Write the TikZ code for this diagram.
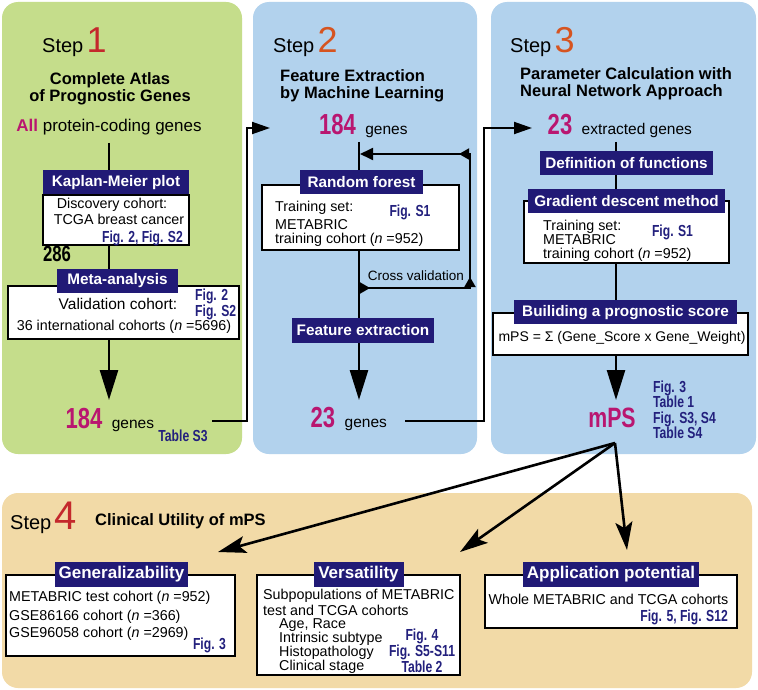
\documentclass[tikz,border=0pt]{standalone}
\usepackage{fontspec}
\setmainfont{Liberation Sans}
\newfontfamily\condfont[FakeStretch=0.76]{Liberation Sans}
\usetikzlibrary{positioning, arrows.meta, decorations.markings, calc}

\definecolor{panelgreen}{RGB}{197,221,139}
\definecolor{panelblue}{RGB}{178,210,237}
\definecolor{paneltan}{RGB}{242,218,167}
\definecolor{navyhead}{RGB}{33,26,118}
\definecolor{navytext}{RGB}{35,32,125}
\definecolor{genemag}{RGB}{185,22,112}
\definecolor{stepred}{RGB}{196,40,44}
\definecolor{steporange}{RGB}{214,84,32}

\begin{document}
\begin{tikzpicture}[x=1pt, y=-1pt,
    stepword/.style={font=\fontsize{20}{22}\selectfont, inner sep=0pt, anchor=base west},
    stepnum/.style={font=\fontsize{36}{36}\selectfont, inner sep=0pt, anchor=base west},
    heading/.style={font=\fontsize{16.5}{17}\selectfont\bfseries, inner sep=0pt},
    headbox/.style={fill=navyhead, text=white, font=\fontsize{15.3}{16}\selectfont\bfseries, inner sep=0pt, minimum height=24pt},
    infobox/.style={draw=black, line width=1.2pt, fill=white, inner sep=0pt},
    bodytxt/.style={font=\fontsize{14.3}{15}\selectfont, inner sep=0pt, text height=9pt, text depth=2.5pt},
    genetxt/.style={font=\fontsize{15.5}{16}\selectfont, inner sep=0pt, anchor=base west},
    figref/.style={text=navytext, font=\condfont\bfseries\fontsize{16}{15.5}\selectfont, inner sep=0pt},
    bignum/.style={text=genemag, font=\condfont\bfseries\fontsize{29}{29}\selectfont, inner sep=0pt, anchor=base},
    mainflow/.style={line width=2.6pt, -{Triangle[length=30pt, width=18pt]}},
    linkarrow/.style={line width=2pt, -{Triangle[length=18pt, width=12pt]}},
    fanarrow/.style={line width=2.6pt, -{Stealth[length=28pt, width=17pt, inset=6pt]}},
    cvloop/.style={line width=1.8pt, -{Triangle[length=13pt, width=12pt]},
        decoration={markings,
        mark=at position 11pt with {\arrow{Triangle[length=10pt, width=11pt]}},
        mark=at position 122pt with {\arrow{Triangle[length=10pt, width=11pt]}},
        mark=at position 256pt with {\arrow{Triangle[length=10pt, width=11pt]}}},
        postaction={decorate}}]

    \useasboundingbox (0,0) rectangle (758,690);
    \fill[white] (0,0) rectangle (758,690);

    % Panels
    \fill[panelgreen, rounded corners=16pt] (2,2) rectangle (242,454);
    \fill[panelblue, rounded corners=16pt] (253,2) rectangle (477,454);
    \fill[panelblue, rounded corners=16pt] (491,2) rectangle (756,454);
    \fill[paneltan, rounded corners=16pt] (2,493) rectangle (752,688);

    % Step 1
    \node[stepword] (step1) at (42,53) {Step};
    \node[stepnum, text=stepred] (step1num) at ([xshift=3pt]step1.base east) {1};
    \node[heading, align=center] (title1) at (110,89) {Complete Atlas\\of Prognostic Genes};
    \node[font=\fontsize{17}{17}\selectfont, inner sep=0pt] (all_genes) at (109,127) {{\color{genemag}\bfseries All} protein-coding genes};

    \coordinate (top1) at (109,143);
    \coordinate (tip1) at (109,400);
    \draw[mainflow] (top1) -- (tip1);

    \node[infobox, minimum width=146pt, minimum height=50pt] (km_box) at (116,220) {};
    \node[headbox, minimum width=146pt, above=0pt of km_box] (km_head) {Kaplan-Meier plot};
    \node[bodytxt] (km_txt1) at (112,205) {Discovery cohort:};
    \node[bodytxt] (km_txt2) at (119,221) {TCGA breast cancer};
    \node[figref, anchor=east] (km_fig) at (183,238) {Fig. 2, Fig. S2};
    \node[font=\condfont\bfseries\fontsize{22}{22}\selectfont, inner sep=0pt] (n286) at (57,254) {286};

    \node[infobox, minimum width=231pt, minimum height=53pt] (meta_box) at (123.5,312.5) {};
    \node[headbox, minimum width=121pt] (meta_head) at ([xshift=-6pt, yshift=4.5pt]meta_box.north) {Meta-analysis};
    \node[bodytxt, font=\fontsize{15.5}{16}\selectfont] (meta_txt1) at (118,306) {Validation cohort:};
    \node[figref, font=\condfont\bfseries\fontsize{16}{13.5}\selectfont, anchor=west, align=left] (meta_fig) at (195,304) {Fig. 2\\Fig. S2};
    \node[bodytxt] (meta_txt2) at (124,327.5) {36 international cohorts (\textit{n} =5696)};

    \node[bignum] (num184a) at (84,428) {184};
    \node[genetxt] (genes1) at ([xshift=9pt]num184a.base east) {genes};
    \node[figref] (tab_s3) at (183,436) {Table S3};

    \coordinate (link1s) at (212,421);
    \coordinate (bend1) at (247,128);
    \coordinate (link1e) at (270,128);
    \draw[linkarrow] (link1s) -| (bend1) -- (link1e);

    % Step 2
    \node[stepword] (step2) at (273,53) {Step};
    \node[stepnum, text=steporange] (step2num) at ([xshift=3pt]step2.base east) {2};
    \node[heading, align=left, anchor=west] (title2) at (280,86) {Feature Extraction\\by Machine Learning};
    \node[bignum] (num184b) at (337.5,135) {184};
    \node[genetxt] (genes2) at ([xshift=9pt]num184b.base east) {genes};

    \coordinate (top2) at (359,142);
    \coordinate (tip2) at (359,400);
    \draw[mainflow] (top2) -- (tip2);

    % Cross validation loop
    \coordinate (cv_a) at (359,288);
    \coordinate (cv_b) at (470,288);
    \coordinate (cv_c) at (470,154);
    \coordinate (cv_d) at (360,154);
    \draw[cvloop] (cv_a) -- (cv_b) -- (cv_c) -- (cv_d);
    \node[font=\fontsize{13.5}{14}\selectfont, inner sep=0pt] (cv_lbl) at (416,276) {Cross validation};

    \node[infobox, minimum width=197pt, minimum height=65pt] (rf_box) at (360.5,217.5) {};
    \node[headbox, minimum width=123pt] (rf_head) at ([xshift=1pt, yshift=2.5pt]rf_box.north) {Random forest};
    \node[bodytxt, anchor=west] (rf_txt1) at (275,208) {Training set:};
    \node[figref] (rf_fig) at (410,212) {Fig. S1};
    \node[bodytxt, anchor=west] (rf_txt2) at (275,226) {METABRIC};
    \node[bodytxt, anchor=west] (rf_txt3) at (275,240) {training cohort (\textit{n} =952)};

    \node[headbox, minimum width=142pt, minimum height=25pt] (fe_head) at (363,330.5) {Feature extraction};

    \node[bignum] (num23a) at (323,427) {23};
    \node[genetxt] (genes3) at ([xshift=9pt]num23a.base east) {genes};

    \coordinate (link2s) at (405,421);
    \coordinate (bend2) at (484,128);
    \coordinate (link2e) at (532,128);
    \draw[linkarrow] (link2s) -| (bend2) -- (link2e);

    % Step 3
    \node[stepword] (step3) at (510,53) {Step};
    \node[stepnum, text=steporange] (step3num) at ([xshift=3pt]step3.base east) {3};
    \node[heading, align=left, anchor=west] (title3) at (520,83.5) {Parameter Calculation with\\Neural Network Approach};
    \node[bignum] (num23b) at (560,135) {23};
    \node[genetxt] (genes4) at ([xshift=9pt]num23b.base east) {extracted genes};

    \coordinate (top3) at (616,142);
    \coordinate (tip3) at (616,400);
    \draw[mainflow] (top3) -- (tip3);

    \node[headbox, minimum width=173pt] (def_head) at (626.5,163) {Definition of functions};

    \node[infobox, minimum width=205pt, minimum height=62pt] (gd_box) at (626.5,232) {};
    \node[headbox, minimum width=197pt] (gd_head) at ([yshift=-1pt]gd_box.north) {Gradient descent method};
    \node[bodytxt, anchor=west] (gd_txt1) at (543,227) {Training set:};
    \node[figref] (gd_fig) at (672.5,232) {Fig. S1};
    \node[bodytxt, anchor=west] (gd_txt2) at (543,241) {METABRIC};
    \node[bodytxt, anchor=west] (gd_txt3) at (543,255) {training cohort (\textit{n} =952)};

    \node[infobox, minimum width=255pt, minimum height=42pt] (bps_box) at (620.5,334) {};
    \node[headbox, minimum width=223pt] (bps_head) at ([xshift=5pt]bps_box.north) {Builiding a prognostic score};
    \node[bodytxt, font=\fontsize{14}{15}\selectfont] (bps_txt) at (622,338) {mPS = Σ (Gene\_Score x Gene\_Weight)};

    \node[bignum, font=\condfont\bfseries\fontsize{28}{28}\selectfont] (mps) at (612,427) {mPS};
    \node[figref, align=left, anchor=west] (mps_fig) at (653,410) {Fig. 3\\Table 1\\Fig. S3, S4\\Table S4};

    % Step 4
    \node[stepword] (step4) at (10,529) {Step};
    \node[stepnum, font=\fontsize{40}{40}\selectfont, text=stepred] (step4num) at ([xshift=3pt]step4.base east) {4};
    \node[heading, anchor=base west] (title4) at (95,525) {Clinical Utility of mPS};

    \node[infobox, minimum width=229pt, minimum height=81pt] (gen_box) at (120.5,615.5) {};
    \node[headbox, font=\fontsize{17}{18}\selectfont\bfseries, minimum width=133pt, minimum height=25pt] (gen_head) at ([xshift=1pt]gen_box.north) {Generalizability};
    \node[bodytxt, anchor=west] (gen_txt1) at (9,598) {METABRIC test cohort (\textit{n} =952)};
    \node[bodytxt, anchor=west] (gen_txt2) at (9,617) {GSE86166 cohort (\textit{n} =366)};
    \node[bodytxt, anchor=west] (gen_txt3) at (9,634) {GSE96058 cohort (\textit{n} =2969)};
    \node[figref] (gen_fig) at (209.5,645) {Fig. 3};

    \node[infobox, minimum width=203pt, minimum height=100pt] (vers_box) at (358.5,625) {};
    \node[headbox, font=\fontsize{17}{18}\selectfont\bfseries, minimum width=90pt, minimum height=25pt] (vers_head) at (vers_box.north) {Versatility};
    \node[bodytxt, anchor=west] (vers_txt1) at (263,596) {Subpopulations of METABRIC};
    \node[bodytxt, anchor=west] (vers_txt2) at (263,612) {test and TCGA cohorts};
    \node[bodytxt, anchor=west] (vers_txt3) at (279,625) {Age, Race};
    \node[bodytxt, anchor=west] (vers_txt4) at (279,639) {Intrinsic subtype};
    \node[bodytxt, anchor=west] (vers_txt5) at (279,653) {Histopathology};
    \node[bodytxt, anchor=west] (vers_txt6) at (279,667) {Clinical stage};
    \node[figref, font=\condfont\bfseries\fontsize{16}{14}\selectfont, align=center] (vers_fig) at (422,651) {Fig. 4\\Fig. S5-S11\\Table 2};

    \node[infobox, minimum width=252pt, minimum height=53pt] (app_box) at (611,601.5) {};
    \node[headbox, font=\fontsize{17}{18}\selectfont\bfseries, minimum width=176pt, minimum height=25pt] (app_head) at (app_box.north) {Application potential};
    \node[bodytxt] (app_txt) at (608.5,601) {Whole METABRIC and TCGA cohorts};
    \node[figref, anchor=east] (app_fig) at (728,617) {Fig. 5, Fig. S12};

    % Arrows from mPS to the clinical utility boxes
    \coordinate (fan_src) at (615,443);
    \coordinate (fan_gen) at (218,552);
    \coordinate (fan_vers) at (460,552);
    \coordinate (fan_app) at (627,550);
    \draw[fanarrow] (fan_src) -- (fan_gen);
    \draw[fanarrow] (fan_src) -- (fan_vers);
    \draw[fanarrow] (fan_src) -- (fan_app);
\end{tikzpicture}
\end{document}
